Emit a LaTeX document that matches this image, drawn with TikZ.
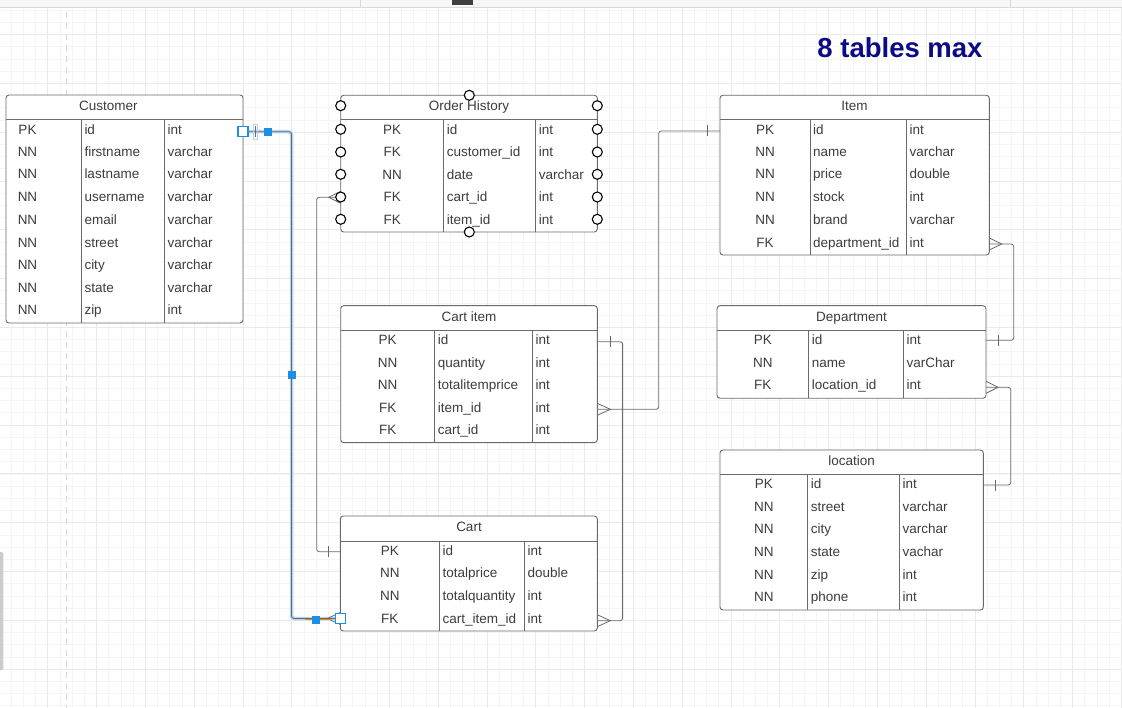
\documentclass[tikz,border=0pt]{standalone}
\usepackage{fontspec}
\setmainfont{Liberation Sans}
\definecolor{tline}{HTML}{6A6A6A}
\definecolor{ttext}{HTML}{3C3C3C}
\definecolor{gmin}{HTML}{F5F5F5}
\definecolor{gmaj}{HTML}{EAEAEA}
\definecolor{selb}{HTML}{1A8FE3}
\definecolor{glow}{HTML}{B4D2F4}
\definecolor{navy}{HTML}{0B0B84}

\begin{document}
\begin{tikzpicture}[x=1pt,y=-1pt,
  tbl/.style={draw=tline,line width=.9pt,rounded corners=3pt,fill=white,anchor=north west,inner sep=0,outer sep=0},
  ttl/.style={text=ttext,font=\fontsize{13.5}{16}\selectfont,inner sep=0,text height=9.5pt,text depth=0pt},
  key/.style={ttl},
  fld/.style={ttl,anchor=west},
  sep/.style={draw=tline,line width=.9pt},
  rel/.style={draw=tline,line width=.8pt,rounded corners=2.5pt},
  foot/.style={draw=tline,line width=.8pt},
  hook/.style={circle,draw=black,fill=white,line width=1.1pt,minimum size=10pt,inner sep=0},
  grip/.style={fill=selb,minimum size=8pt,inner sep=0}]
\useasboundingbox (0,0) rectangle (1122,708);
\fill[white] (0,0) rectangle (1122,708);
% grid
\foreach \i in {0,...,92} \draw[gmin,line width=.6pt] (-1.1+12.2*\i,8)--(-1.1+12.2*\i,708);
\foreach \i in {0,...,57} \draw[gmin,line width=.6pt] (0,10.2+12.2*\i)--(1122,10.2+12.2*\i);
\foreach \i in {0,...,23} \draw[gmaj,line width=.7pt] (-1.1+48.8*\i,8)--(-1.1+48.8*\i,708);
\foreach \i in {0,...,13} \draw[gmaj,line width=.7pt] (0,34.6+48.8*\i)--(1122,34.6+48.8*\i);
\fill[gray!6] (0,0) rectangle (1122,7.3);
\draw[gray!30] (0,7.3)--(1122,7.3) (360,0)--(360,7.3) (1010,0)--(1010,7.3);
\fill[black!75] (452,0) rectangle (473,4.7);
\draw[gray!30,line width=1pt,dash pattern=on 6pt off 5pt] (66.5,12)--(66.5,708);
\fill[gray!40,rounded corners=1.5pt] (-4,552) rectangle (3.3,670);

\node[font=\bfseries\fontsize{27.5}{30}\selectfont,text=navy,inner sep=0,anchor=base] (note) at (900,57.3){8 tables max};

% Customer
\node[tbl,minimum width=237,minimum height=228] (cu) at (6,95){};
\draw[sep] (6,119)--(243,119) (81,119)--(81,323) (164.3,119)--(164.3,323);
\node[ttl] (cu-h) at (108.3,105.7){Customer};
\foreach \y/\k/\n/\t [count=\r] in {129.3/PK/id/int,151.7/NN/firstname/varchar,174/NN/lastname/varchar,
  197/NN/username/varchar,219.3/NN/email/varchar,242.3/NN/street/varchar,264.7/NN/city/varchar,
  287.7/NN/state/varchar,310/NN/zip/int}{
  \node[key] (cu-k\r) at (27.5,\y){\k};
  \node[fld] (cu-n\r) at (84.3,\y){\n};
  \node[fld] (cu-t\r) at (167.5,\y){\t};}

% Order History
\node[tbl,minimum width=256.6,minimum height=136.7] (oh) at (340.7,95.3){};
\draw[sep] (340.7,119.3)--(597.3,119.3) (443.7,119.3)--(443.7,232) (535.7,119.3)--(535.7,232);
\node[ttl] (oh-h) at (469,105.7){Order History};
\foreach \y/\k/\n/\t [count=\r] in {129.3/PK/id/int,152/FK/customer\_id/int,174.3/NN/date/varchar,
  197/FK/cart\_id/int,219.3/FK/item\_id/int}{
  \node[key] (oh-k\r) at (392.2,\y){\k};
  \node[fld] (oh-n\r) at (446.7,\y){\n};
  \node[fld] (oh-t\r) at (538.7,\y){\t};}

% Item
\node[tbl,minimum width=269.3,minimum height=159.7] (it) at (720,95.3){};
\draw[sep] (720,119.3)--(989.3,119.3) (810,119.3)--(810,255) (906.3,119.3)--(906.3,255);
\node[ttl] (it-h) at (854.5,105.7){Item};
\foreach \y/\k/\n/\t [count=\r] in {129.3/PK/id/int,151.7/NN/name/varchar,174/NN/price/double,
  197/NN/stock/int,219.3/NN/brand/varchar,242.3/FK/department\_id/int}{
  \node[key] (it-k\r) at (765,\y){\k};
  \node[fld] (it-n\r) at (813,\y){\n};
  \node[fld] (it-t\r) at (909.3,\y){\t};}

% Department
\node[tbl,minimum width=269,minimum height=92.6] (de) at (717,305.7){};
\draw[sep] (717,330.3)--(986,330.3) (808.7,330.3)--(808.7,398.3) (903.3,330.3)--(903.3,398.3);
\node[ttl] (de-h) at (851.5,316.7){Department};
\foreach \y/\k/\n/\t [count=\r] in {340/PK/id/int,362.3/NN/name/varChar,384.7/FK/location\_id/int}{
  \node[key] (de-k\r) at (762.8,\y){\k};
  \node[fld] (de-n\r) at (811.7,\y){\n};
  \node[fld] (de-t\r) at (906.3,\y){\t};}

% location
\node[tbl,minimum width=263.3,minimum height=160] (lo) at (720,450){};
\draw[sep] (720,474.3)--(983.3,474.3) (807.7,474.3)--(807.7,610) (899.3,474.3)--(899.3,610);
\node[ttl] (lo-h) at (851.7,460.7){location};
\foreach \y/\k/\n/\t [count=\r] in {483.7/PK/id/int,506.3/NN/street/varchar,529/NN/city/varchar,
  551.7/NN/state/vachar,574.3/NN/zip/int,596.7/NN/phone/int}{
  \node[key] (lo-k\r) at (763.8,\y){\k};
  \node[fld] (lo-n\r) at (810.7,\y){\n};
  \node[fld] (lo-t\r) at (902.3,\y){\t};}

% Cart item
\node[tbl,minimum width=256.6,minimum height=137] (ci) at (340.7,305.7){};
\draw[sep] (340.7,330)--(597.3,330) (434.7,330)--(434.7,442.7) (532.3,330)--(532.3,442.7);
\node[ttl] (ci-h) at (469,316.7){Cart item};
\foreach \y/\k/\n/\t [count=\r] in {339.3/PK/id/int,362.3/NN/quantity/int,384.7/NN/totalitemprice/int,
  407.3/FK/item\_id/int,430/FK/cart\_id/int}{
  \node[key] (ci-k\r) at (387.7,\y){\k};
  \node[fld] (ci-n\r) at (437.7,\y){\n};
  \node[fld] (ci-t\r) at (535.3,\y){\t};}

% Cart
\node[tbl,minimum width=257,minimum height=115] (ca) at (340.3,516){};
\draw[sep] (340.3,541.3)--(597.3,541.3) (439.3,541.3)--(439.3,631) (524.3,541.3)--(524.3,631);
\node[ttl] (ca-h) at (469,526.7){Cart};
\foreach \y/\k/\n/\t [count=\r] in {550.3/PK/id/int,573/NN/totalprice/double,595.7/NN/totalquantity/int,
  618.3/FK/cart\_item\_id/int}{
  \node[key] (ca-k\r) at (389.8,\y){\k};
  \node[fld] (ca-n\r) at (442.3,\y){\n};
  \node[fld] (ca-t\r) at (527.3,\y){\t};}

\coordinate (cu-id) at (243,131.7);
\coordinate (ca-fk) at (340.3,618.5);
\coordinate (oh-cart) at (340.7,197.3);
\coordinate (ca-id) at (340.3,551.7);
\coordinate (it-id) at (720,131);
\coordinate (ci-item) at (597.3,409.3);
\coordinate (ci-id) at (597.3,341.7);
\coordinate (ca-cit) at (597.3,620.7);
\coordinate (it-dep) at (989.3,244);
\coordinate (de-id) at (986,340.3);
\coordinate (de-loc) at (986,387.3);
\coordinate (lo-id) at (983.3,485);

\draw[glow,line width=3.5pt,rounded corners=3pt] (cu-id) -- ++(48.5,0) |- (ca-fk);
\draw[rel] (cu-id) -- ++(48.5,0) |- (ca-fk);
\draw[rel] (oh-cart) -- ++(-24,0) |- (ca-id);
\draw[rel] (it-id) -- ++(-61.3,0) |- (ci-item);
\draw[rel] (ci-id) -- ++(25.3,0) |- (ca-cit);
\draw[rel] (it-dep) -- ++(24.4,0) |- (de-id);
\draw[rel] (de-loc) -- ++(24.7,0) |- (lo-id);
\foreach \p/\d in {oh-cart/-12,ca-fk/-13,ci-item/13,ca-cit/13,it-dep/12.4,de-loc/12}
  \draw[foot] (\p) ++(0,-6) -- ++(\d,6) -- ++(-\d,6);
\draw[glow,line width=.8pt] (253,124.5) rectangle (257,139);
\foreach \p/\d in {cu-id/12,ca-id/-12,it-id/-12.3,ci-id/13.4,de-id/12.3,lo-id/12.4}
  \draw[foot] (\p) ++(\d,-5.5) -- ++(0,11);
\draw[orange,line width=.8pt] (305,619.4)--(330,619.4);

\foreach \y [count=\r] in {105.7,129.3,152,174.3,197,219.3}{
  \node[hook] (oh-l\r) at (340.7,\y){};
  \node[hook] (oh-r\r) at (597.3,\y){};}
\node[hook] (oh-top) at (469.3,95.3){};
\node[hook] (oh-bot) at (469.3,232){};

\node[draw=selb,fill=white,line width=1.1pt,minimum size=10pt,inner sep=0] (sel-a) at (cu-id){};
\node[draw=selb,fill=white,line width=1.1pt,minimum size=10pt,inner sep=0] (sel-b) at (ca-fk){};
\node[grip] (g1) at (267.7,131.7){};
\node[grip] (g2) at (291.5,375){};
\node[grip] (g3) at (316,620){};
\end{tikzpicture}
\end{document}
